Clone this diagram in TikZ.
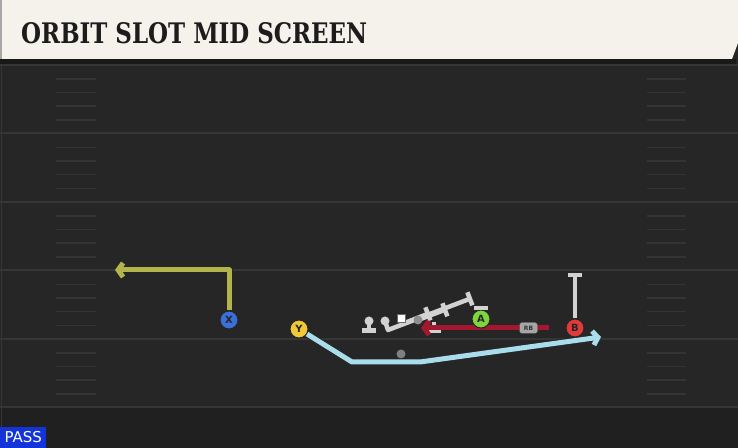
\documentclass[tikz,border=0pt]{standalone}
\usepackage{fontspec}
\setmainfont{DejaVu Sans}
\newfontfamily\titlefont{DejaVu Serif}
\usetikzlibrary{arrows.meta}
\definecolor{fieldgray}{HTML}{262626}
\definecolor{fielddark}{HTML}{202020}
\definecolor{yardgray}{HTML}{363636}
\definecolor{hashgray}{HTML}{343434}
\definecolor{headerwhite}{HTML}{F4F2EB}
\definecolor{titleblack}{HTML}{1C1C1C}
\definecolor{passblue}{HTML}{1234D8}
\definecolor{xblue}{HTML}{3B6FD9}
\definecolor{yyellow}{HTML}{F2C935}
\definecolor{agreen}{HTML}{7ED63A}
\definecolor{bred}{HTML}{E23A3A}
\definecolor{olive}{HTML}{B3B54B}
\definecolor{skyblue}{HTML}{A9DDEB}
\definecolor{motionred}{HTML}{A3182F}
\definecolor{blockgray}{HTML}{D2D2D2}
\begin{document}
\begin{tikzpicture}[x=1bp,y=1bp,line join=round,
  player/.style={circle,draw=black!85,line width=1bp,minimum size=18bp,inner sep=0pt,
    font=\bfseries\fontsize{10}{10}\selectfont,text=black!85},
  route/.style={line width=5bp,preaction={draw=black!85,line width=7bp}},
  blockline/.style={draw=blockgray,line width=4.5bp,-{Bar[width=14bp]}},
  hash/.style={draw=hashgray,line width=1.5bp},
  yardline/.style={draw=yardgray,line width=2bp}]
\useasboundingbox (0,0) rectangle (738bp,448bp);
%%
  % Field
  \fill[fieldgray] (0,0) rectangle (738,448);
  \fill[fielddark] (0,0) rectangle (738,40);
  \draw[yardgray,line width=1.5bp] (1.5,0) -- (1.5,389);
  \foreach \y in {383,314.5,246,177.5,109,40.5}
    \draw[yardline] (0,\y) -- (738,\y);
  \foreach \y in {383,314.5,246,177.5,109}
    \foreach \d in {14,27.5,41,55} {
      \draw[hash] (56,\y-\d) -- (96,\y-\d);
      \draw[hash] (647,\y-\d) -- (686,\y-\d);
    }
  % Header
  \fill[black!90] (0,384) -- (736,384) -- (736,389) -- (0,389) -- cycle;
  \fill[headerwhite] (0,448) -- (738,448) -- (738,405) -- (732,389) -- (0,389) -- cycle;
  \fill[black!35] (0,389) rectangle (2.5,448);
  \node[anchor=north west,inner sep=0pt,text=titleblack] (title) at (21,426)
    {\resizebox{346bp}{21bp}{\titlefont\bfseries ORBIT SLOT MID SCREEN}};
  \node[fill=passblue,text=white,anchor=south west,minimum width=46bp,minimum height=21bp,
    inner sep=0pt,font=\fontsize{15}{15}\selectfont] (pass) at (0,0) {PASS};
  % Node: QB
  \fill[black!50] (401,94) circle (4.5bp);
  % Node: Linemen
  \coordinate (lmA) at (369,127);
  \coordinate (lmB) at (385,127);
  \coordinate (lmC) at (418,128);
  \draw[blockline] (lmA) -- (369,115);
  \fill[blockgray] (lmA) circle (4.5bp);
  \draw[blockline] (lmB) -- (388,118) -- (472,150);
  \fill[blockgray] (lmB) circle (4.5bp);
  \draw[blockline] (402,124) -- (430,135);
  \draw[blockline] (lmC) -- (447,139);
  \fill[blockgray!60!fieldgray] (lmC) circle (4.5bp);
  \draw[blockline] (434,126) -- (434,115);
  \node[fill=white,draw=black!60,minimum size=8bp,inner sep=0pt] (center) at (401.5,129.5) {};
  % Edge: RB motion
  \coordinate (rbstart) at (549,120);
  \coordinate (rbend) at (421,120);
  \draw[motionred,line width=5bp,-{Straight Barb[length=5bp,width=14bp]}] (rbstart) -- (rbend);
  \node[fill=black!35,draw=black!70,rounded corners=2.5bp,minimum width=18bp,minimum height=11bp,
    inner sep=0pt,font=\bfseries\fontsize{6}{6}\selectfont,text=black!80] (RB) at (528.5,120) {RB};
  % Node: Players
  \node[player,fill=xblue] (X) at (229,128) {X};
  \node[player,fill=yyellow] (Y) at (299,119) {Y};
  \node[player,fill=agreen] (A) at (481,129) {A};
  \node[player,fill=bred] (B) at (575,120) {B};
  % Edge: A block
  \draw[blockline] (A) -- (481,142);
  % Edge: B block
  \draw[blockline,preaction={draw=black!85,line width=6.5bp}] (B) -- (575,175);
  % Edge: X route
  \coordinate (xend) at (115,178);
  \draw[route,draw=olive,-{Straight Barb[length=5bp,width=14bp]}] (X) -- (229,178) -- (xend);
  % Edge: Y route
  \coordinate (yend) at (601,111);
  \draw[route,draw=skyblue,-{Straight Barb[length=5bp,width=14bp]}] (Y) -- (352,86) -- (420,86) -- (yend);
%
\end{tikzpicture}
\end{document}
